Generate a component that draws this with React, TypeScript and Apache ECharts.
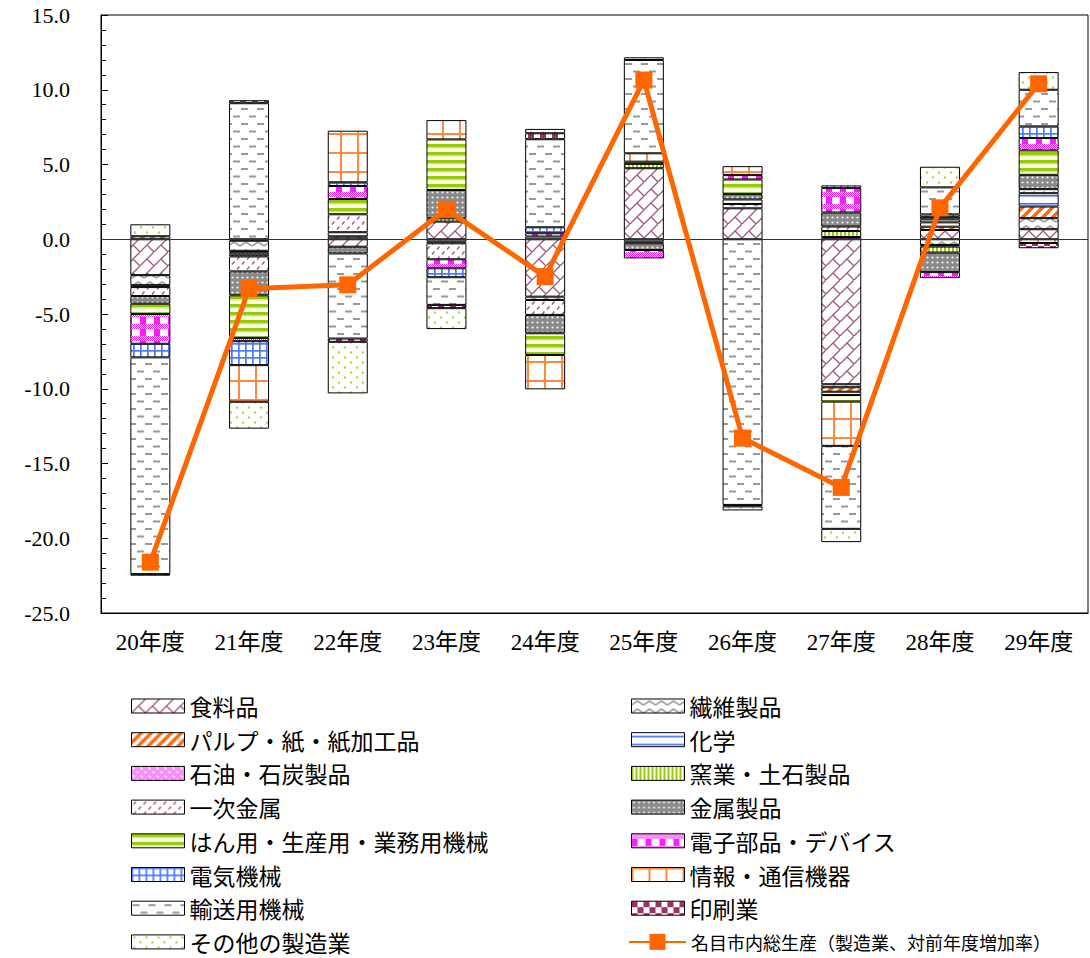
import React, { useEffect, useRef } from "react";
import * as echarts from "echarts";

// Fiscal years on the category axis
const categories = ["20年度", "21年度", "22年度", "23年度", "24年度", "25年度", "26年度", "27年度", "28年度", "29年度"];

// Value axis range (percentage points)
const yMin = -25;
const yMax = 15;
const yStep = 5;

// Contribution of each industry to the growth rate (percentage points)
const food = [-2.4, -0.1, -0.5, 1.18, -3.84, 4.75, 2.07, -9.7, 0.62, 0.67];
const textiles = [-0.67, -0.67, 0.17, -0.15, -0.22, -0.15, 0.29, -0.2, -0.38, 0.74];
const pulpPaper = [0.2, 0, 0, 0, 0, 0, 0, -0.3, 0.22, 0.78];
const chemicals = [-0.13, -0.1, 0.3, -0.12, 0.18, -0.12, 0.3, -0.22, 0.29, 0.89];
const petroleum = [0, -0.15, 0, 0, 0, 0, 0, 0.15, -0.11, 0];
const ceramics = [0, -0.13, 0, 0.22, 0, 0.29, 0, 0.4, -0.4, 0];
const primaryMetal = [-0.6, -1.0, 1.2, -1.07, -1.0, 0, 0, 0.3, 0, 0.27];
const metalProducts = [-0.51, -1.6, -0.45, 1.89, -1.23, -0.45, 0.36, 0.94, -1.31, 0.96];
const generalMachinery = [-0.69, -2.85, 1.02, 3.39, -1.45, 0.15, 0.98, -0.44, 0.2, 1.63];
const electronicParts = [-1.99, -0.22, 0.87, -0.6, 0.22, -0.56, 0.29, 1.63, -0.4, 0.83];
const electricalMachinery = [-0.91, -1.6, 0.25, -0.6, 0.4, 0, 0, 0.18, 0.17, 0.78];
const infoComm = [0, -2.45, 3.45, 1.29, -2.3, 0.56, 0.6, -2.96, 0.16, -0.25];
const transport = [-14.5, 9.1, -5.69, -1.85, 5.89, 6.24, -17.77, -5.55, 1.81, 2.45];
const printing = [-0.1, 0.2, -0.22, -0.22, 0.4, 0, -0.1, 0, 0, -0.35];
const otherMfg = [0.8, -1.8, -3.45, -1.4, 0.29, 0.18, -0.27, -0.89, 1.38, 1.18];

// Nominal gross municipal product, manufacturing, year-on-year growth (%)
const nominalGrowth = [-21.6, -3.3, -3.05, 2.0, -2.5, 10.65, -13.3, -16.6, 2.1, 10.4];

const industryNames = [
  "食料品",
  "繊維製品",
  "パルプ・紙・紙加工品",
  "化学",
  "石油・石炭製品",
  "窯業・土石製品",
  "一次金属",
  "金属製品",
  "はん用・生産用・業務用機械",
  "電子部品・デバイス",
  "電気機械",
  "情報・通信機器",
  "輸送用機械",
  "印刷業",
  "その他の製造業",
];
const industryValues = [
  food, textiles, pulpPaper, chemicals, petroleum, ceramics, primaryMetal, metalProducts,
  generalMachinery, electronicParts, electricalMachinery, infoComm, transport, printing, otherMfg,
];
const lineName = "名目市内総生産（製造業、対前年度増加率）";

type Paint = (g: CanvasRenderingContext2D, w: number, h: number) => void;

function tile(w: number, h: number, paint: Paint) {
  const c = document.createElement("canvas");
  c.width = w;
  c.height = h;
  const g = c.getContext("2d") as CanvasRenderingContext2D;
  g.fillStyle = "#ffffff";
  g.fillRect(0, 0, w, h);
  paint(g, w, h);
  return { image: c, repeat: "repeat" };
}

function fineChecker(g: CanvasRenderingContext2D, x0: number, y0: number, w: number, h: number, color: string) {
  g.fillStyle = color;
  for (let y = y0; y < y0 + h; y++) {
    for (let x = x0; x < x0 + w; x++) {
      if ((x + y) % 2 === 0) g.fillRect(x, y, 1, 1);
    }
  }
}

function buildPatterns() {
  const maroon = "#a3567f";
  const orange = "#ff6a10";
  const green = "#99cc00";
  const blue = "#3f6ff5";
  const grey = "#999999";
  const magenta = "#ff1aff";
  return [
    // 食料品: diagonal brick hatching
    tile(14, 14, (g) => {
      g.strokeStyle = maroon;
      g.lineWidth = 1.3;
      g.beginPath();
      g.moveTo(-2, 16);
      g.lineTo(16, -2);
      g.moveTo(7, 7);
      g.lineTo(14, 14);
      g.stroke();
    }),
    // 繊維製品: grey zigzag
    tile(12, 8, (g) => {
      g.strokeStyle = "#a0a0a0";
      g.lineWidth = 1.6;
      g.beginPath();
      g.moveTo(0, 6);
      g.lineTo(6, 2);
      g.lineTo(12, 6);
      g.stroke();
    }),
    // パルプ・紙・紙加工品: wide orange diagonals
    tile(10, 10, (g) => {
      g.strokeStyle = orange;
      g.lineWidth = 3.5;
      g.beginPath();
      g.moveTo(-1, 11);
      g.lineTo(11, -1);
      g.moveTo(-6, 6);
      g.lineTo(6, -6);
      g.moveTo(4, 16);
      g.lineTo(16, 4);
      g.stroke();
    }),
    // 化学: thin blue horizontal rule
    tile(6, 8, (g) => {
      g.fillStyle = blue;
      g.fillRect(0, 3, 6, 1.6);
    }),
    // 石油・石炭製品: fine magenta texture with white dots
    tile(8, 8, (g) => {
      fineChecker(g, 0, 0, 8, 8, magenta);
      g.fillStyle = "#ffffff";
      g.fillRect(1, 1, 2, 2);
      g.fillRect(5, 5, 2, 2);
    }),
    // 窯業・土石製品: green vertical stripes
    tile(4, 4, (g) => {
      g.fillStyle = green;
      g.fillRect(0, 0, 2, 4);
    }),
    // 一次金属: small maroon ticks
    tile(10, 10, (g) => {
      g.strokeStyle = maroon;
      g.lineWidth = 1.3;
      g.beginPath();
      g.moveTo(2, 4.5);
      g.lineTo(4.5, 1.5);
      g.moveTo(7, 9.5);
      g.lineTo(9.5, 6.5);
      g.stroke();
    }),
    // 金属製品: grey with white dots
    tile(5, 5, (g) => {
      g.fillStyle = "#8a8a8a";
      g.fillRect(0, 0, 5, 5);
      g.fillStyle = "#f4f4f4";
      g.beginPath();
      g.arc(2.5, 2.5, 1.1, 0, Math.PI * 2);
      g.fill();
    }),
    // はん用・生産用・業務用機械: green horizontal bands
    tile(4, 8, (g) => {
      g.fillStyle = green;
      g.fillRect(0, 0, 4, 3.5);
      g.fillStyle = "#d3ea8c";
      g.fillRect(0, 3.5, 4, 1);
    }),
    // 電子部品・デバイス: magenta blocks over fine texture
    tile(14, 12, (g) => {
      fineChecker(g, 0, 0, 14, 5, magenta);
      g.fillStyle = magenta;
      g.fillRect(0, 5, 6, 7);
    }),
    // 電気機械: blue grid
    tile(7, 7, (g) => {
      g.fillStyle = "#4a78ff";
      g.fillRect(0, 0, 1.7, 7);
      g.fillRect(0, 0, 7, 1.7);
    }),
    // 情報・通信機器: open orange grid
    tile(17, 19, (g) => {
      g.fillStyle = "#ff8a3d";
      g.fillRect(0, 0, 2, 19);
      g.fillRect(0, 0, 17, 2);
    }),
    // 輸送用機械: staggered grey dashes
    tile(16, 15, (g) => {
      g.fillStyle = grey;
      g.fillRect(1, 3, 7, 2);
      g.fillRect(9, 10.5, 7, 2);
    }),
    // 印刷業: maroon checkerboard
    tile(12, 12, (g) => {
      g.fillStyle = "#993366";
      g.fillRect(0, 0, 6, 6);
      g.fillRect(6, 6, 6, 6);
    }),
    // その他の製造業: sparse green dots
    tile(12, 10, (g) => {
      g.fillStyle = "#b3d444";
      g.beginPath();
      g.arc(3, 2.5, 1.2, 0, Math.PI * 2);
      g.arc(9, 7.5, 1.2, 0, Math.PI * 2);
      g.fill();
    }),
  ];
}

const numFont = "'Liberation Serif', 'Noto Sans CJK JP', serif";
const jpFont = "'Noto Sans CJK JP', sans-serif";

export default function App() {
  const ref = useRef<HTMLDivElement>(null);

  useEffect(() => {
    document.body.style.margin = "0";
    if (!ref.current) return;
    const chart = echarts.init(ref.current, undefined, { renderer: "svg" });
    const patterns = buildPatterns();

    const barSeries = industryNames.map((name, i) => ({
      name,
      type: "bar",
      stack: "total",
      barWidth: 40,
      data: industryValues[i].map((v) => (v === 0 ? "-" : v)),
      itemStyle: { color: patterns[i], borderColor: "#000", borderWidth: 1 },
      emphasis: { disabled: true },
      ...(i === 0
        ? {
            markLine: {
              silent: true,
              symbol: "none",
              label: { show: false },
              lineStyle: { color: "#333", width: 1, type: "solid" },
              data: [{ yAxis: 0 }],
            },
          }
        : {}),
    }));

    // legend rows: vertical centres at 706 + r * 33.7
    const rowCentre = (r: number) => 706 + r * 33.7;
    const legends: any[] = industryNames.map((name, i) => ({
      data: [name],
      left: i % 2 === 0 ? 131 : 631,
      top: rowCentre(Math.floor(i / 2)) - 11.5,
      padding: 0,
      icon: "rect",
      itemWidth: 53,
      itemHeight: 14,
      itemStyle: { borderColor: "#000", borderWidth: 1 },
      selectedMode: false,
      textStyle: { fontSize: 23, lineHeight: 23, color: "#000", fontFamily: jpFont },
    }));
    legends.push({
      data: [lineName],
      left: 628,
      top: rowCentre(7) - 10,
      padding: 0,
      itemWidth: 57,
      itemHeight: 20,
      selectedMode: false,
      textStyle: { fontSize: 18, lineHeight: 20, color: "#000", fontFamily: jpFont },
    });

    chart.setOption({
      animation: false,
      backgroundColor: "#fff",
      grid: {
        left: 101,
        right: 2,
        top: 15,
        bottom: 345,
        show: true,
        borderColor: "#000",
        borderWidth: 1,
      },
      legend: legends,
      xAxis: {
        type: "category",
        data: categories,
        axisLine: { show: true, onZero: false, lineStyle: { color: "#000" } },
        axisTick: { show: false },
        axisLabel: { color: "#000", fontSize: 23, fontFamily: numFont, margin: 18 },
      },
      yAxis: {
        type: "value",
        min: yMin,
        max: yMax,
        interval: yStep,
        axisLine: { show: true, lineStyle: { color: "#000" } },
        axisTick: { show: true, inside: true, length: 7, lineStyle: { color: "#000" } },
        minorTick: { show: true, splitNumber: 5, length: 5, lineStyle: { color: "#000" } },
        splitLine: { show: false },
        axisLabel: {
          color: "#000",
          fontSize: 22,
          fontFamily: numFont,
          margin: 31,
          formatter: (v: number) => v.toFixed(1),
        },
      },
      series: [
        ...barSeries,
        {
          name: lineName,
          type: "line",
          data: nominalGrowth,
          z: 10,
          symbol: "rect",
          symbolSize: 17,
          lineStyle: { color: "#ff6600", width: 5 },
          itemStyle: { color: "#ff6600" },
          emphasis: { disabled: true },
        },
      ],
    });

    return () => chart.dispose();
  }, []);

  return <div ref={ref} style={{ width: 1090, height: 958 }} />;
}
